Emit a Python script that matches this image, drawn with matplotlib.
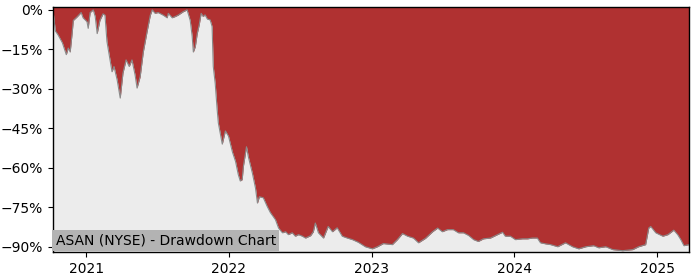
import matplotlib
matplotlib.use("Agg")
import matplotlib.pyplot as plt
import matplotlib.dates as mdates
import matplotlib.ticker as mticker
import pandas as pd

dates = [
    "2020-10-08", "2020-10-14", "2020-10-21", "2020-11-01", "2020-11-11", "2020-11-16",
    "2020-11-21", "2020-11-26", "2020-11-29", "2020-12-09", "2020-12-19", "2020-12-24",
    "2021-01-03", "2021-01-06", "2021-01-11", "2021-01-19", "2021-01-24", "2021-01-29",
    "2021-02-05", "2021-02-13", "2021-02-18", "2021-02-23", "2021-03-03", "2021-03-08",
    "2021-03-13", "2021-03-21", "2021-03-29", "2021-04-05", "2021-04-13", "2021-04-21",
    "2021-04-28", "2021-05-06", "2021-05-11", "2021-05-19", "2021-05-27", "2021-06-01",
    "2021-06-06", "2021-06-14", "2021-06-19", "2021-06-26", "2021-07-04", "2021-07-17",
    "2021-07-27", "2021-07-30", "2021-08-09", "2021-08-17", "2021-08-24", "2021-09-06",
    "2021-09-16", "2021-09-24", "2021-09-29", "2021-10-02", "2021-10-07", "2021-10-12",
    "2021-10-17", "2021-10-22", "2021-10-27", "2021-11-01", "2021-11-07", "2021-11-14",
    "2021-11-19", "2021-11-22", "2021-11-27", "2021-12-02", "2021-12-05", "2021-12-13",
    "2021-12-15", "2021-12-23", "2021-12-31", "2022-01-10", "2022-01-18", "2022-01-25",
    "2022-01-30", "2022-02-04", "2022-02-07", "2022-02-15", "2022-02-20", "2022-03-02",
    "2022-03-10", "2022-03-15", "2022-03-20", "2022-03-30", "2022-04-09", "2022-04-17",
    "2022-04-30", "2022-05-08", "2022-05-18", "2022-05-26", "2022-06-02", "2022-06-12",
    "2022-06-20", "2022-06-28", "2022-07-08", "2022-07-16", "2022-07-29", "2022-08-05",
    "2022-08-10", "2022-08-18", "2022-08-31", "2022-09-12", "2022-09-23", "2022-10-05",
    "2022-10-18", "2022-10-31", "2022-11-13", "2022-11-28", "2022-12-16", "2023-01-03",
    "2023-01-16", "2023-01-31", "2023-02-23", "2023-03-08", "2023-03-21", "2023-04-03",
    "2023-04-18", "2023-05-01", "2023-05-19", "2023-06-06", "2023-06-19", "2023-07-01",
    "2023-07-14", "2023-07-29", "2023-08-11", "2023-08-24", "2023-09-06", "2023-09-19",
    "2023-10-01", "2023-10-14", "2023-11-01", "2023-11-19", "2023-12-02", "2023-12-09",
    "2023-12-22", "2024-01-04", "2024-01-22", "2024-02-04", "2024-02-16", "2024-02-29",
    "2024-03-08", "2024-03-21", "2024-04-03", "2024-04-21", "2024-05-11", "2024-05-29",
    "2024-06-14", "2024-07-02", "2024-07-22", "2024-08-04", "2024-08-22", "2024-09-09",
    "2024-10-04", "2024-10-30", "2024-11-14", "2024-12-02", "2024-12-10", "2024-12-15",
    "2024-12-28", "2025-01-15", "2025-01-28", "2025-02-12", "2025-02-22", "2025-03-02",
    "2025-03-10", "2025-03-23",
]

drawdown = [
    0.0, -8.0, -9.5, -12.5, -17.0, -14.5,
    -16.0, -8.8, -4.0, -2.6, -1.0, -3.0,
    -4.5, -7.0, -1.0, 0.0, -2.5, -9.0,
    -4.0, -1.5, -2.0, -12.0, -19.0, -23.5,
    -21.5, -26.5, -33.5, -24.0, -19.0, -21.5,
    -19.0, -24.7, -29.7, -25.4, -16.0, -12.0,
    -8.0, -2.0, 0.0, -1.3, -1.0, -2.0,
    -3.0, -1.3, -3.0, -2.5, -2.0, -0.7,
    0.0, -4.0, -10.0, -16.0, -14.0, -9.0,
    -5.7, -1.3, -2.5, -1.9, -3.5, -3.8,
    -6.3, -21.5, -28.0, -38.0, -43.0, -49.4,
    -51.0, -46.0, -48.0, -54.0, -57.6, -62.6,
    -65.0, -64.5, -59.5, -52.0, -56.0, -62.0,
    -67.7, -73.4, -71.0, -71.4, -74.7, -77.0,
    -79.7, -82.9, -84.7, -84.3, -85.4, -84.7,
    -86.0, -85.4, -86.0, -86.7, -85.8, -84.3,
    -81.0, -84.7, -86.7, -82.3, -84.3, -82.8,
    -86.0, -86.7, -87.3, -88.3, -90.0, -90.8,
    -90.0, -88.8, -89.2, -87.3, -85.0, -86.0,
    -86.7, -88.5, -86.8, -84.3, -82.9, -84.3,
    -83.5, -83.5, -84.7, -84.7, -85.7, -87.3,
    -88.0, -87.0, -86.7, -85.4, -84.5, -86.0,
    -86.0, -87.3, -87.0, -87.0, -86.7, -86.7,
    -88.5, -88.9, -89.2, -90.0, -88.5, -90.0,
    -90.8, -90.0, -89.6, -90.4, -90.0, -91.1,
    -91.5, -91.1, -90.0, -89.2, -82.9, -82.3,
    -84.7, -86.0, -85.4, -83.7, -85.4, -87.3,
    -89.6, -89.2,
]

y_ticks = [0, -15, -30, -45, -60, -75, -90]
title_text = "ASAN (NYSE) - Drawdown Chart"

x = pd.to_datetime(dates)

fig = plt.figure(figsize=(7, 2.8), dpi=100)
ax = fig.add_axes([0.0757, 0.1, 0.9086, 0.875])
red = "#b03131"
ax.set_facecolor(red)
ax.fill_between(x, drawdown, -100, color="#ececec", linewidth=0)
ax.plot(x, drawdown, color="#8a8a8a", linewidth=0.8)

ax.set_xlim(x[0], x[-1])
ax.set_ylim(-92, 1.1)
ax.set_yticks(y_ticks)
ax.yaxis.set_major_formatter(mticker.FuncFormatter(lambda v, p: f"{v:.0f}%".replace("-", "\u2212")))
ax.xaxis.set_major_locator(mdates.YearLocator())
ax.xaxis.set_major_formatter(mdates.DateFormatter("%Y"))
ax.tick_params(labelsize=10)
for s in ax.spines.values():
    s.set_color("black")
    s.set_linewidth(1)

ax.text(0.004, 0.018, title_text, transform=ax.transAxes, fontsize=10,
        ha="left", va="bottom", color="black",
        bbox=dict(boxstyle="square,pad=0.25", facecolor="#b3b3b3", edgecolor="none"))

fig.savefig("out.png", dpi=100)
